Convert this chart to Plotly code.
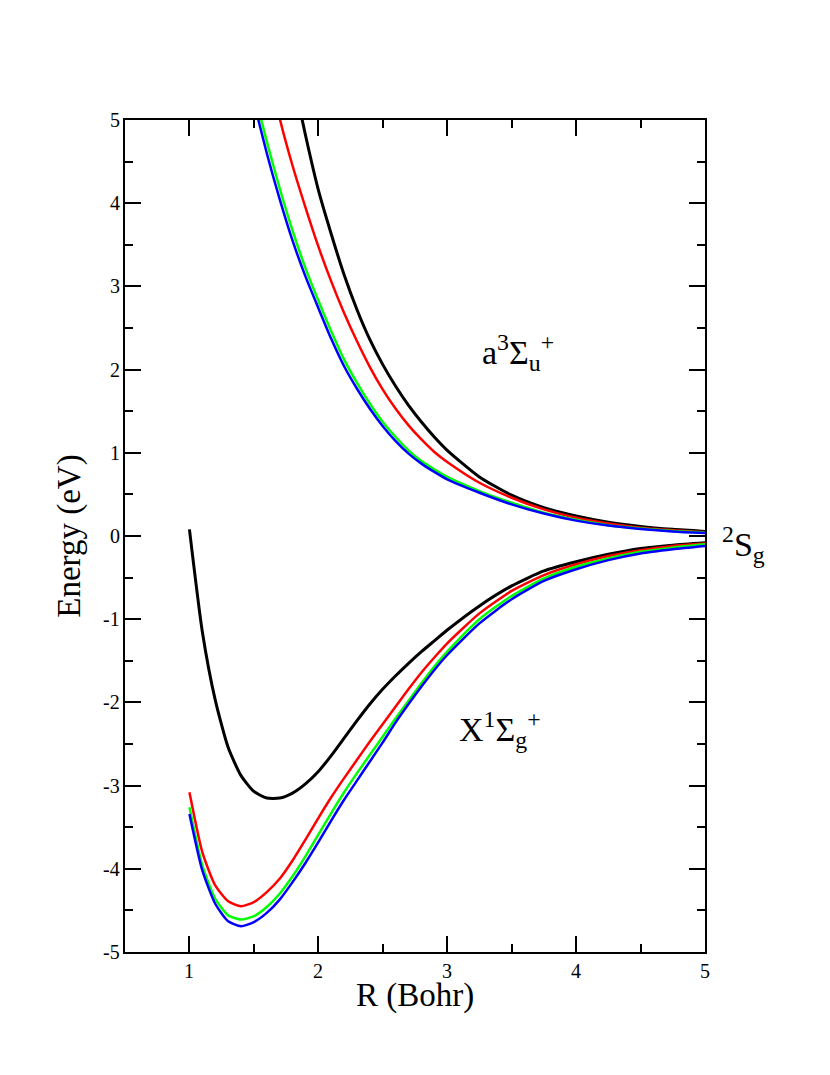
import plotly.graph_objects as go

# bond length grid (Bohr)
r_low = [1.0, 1.1, 1.2, 1.3, 1.4, 1.5, 1.6, 1.7, 1.8, 1.9, 2.0, 2.1, 2.2, 2.3, 2.4,
         2.5, 2.6, 2.7, 2.8, 2.9, 3.0, 3.25, 3.5, 3.75, 4.0, 4.25, 4.5, 4.75, 5.0]

# X 1Sigma_g+ curves (eV)
x_black = [0.08, -1.15, -1.97, -2.54, -2.88, -3.07, -3.15, -3.15, -3.09, -2.98, -2.83,
           -2.64, -2.43, -2.22, -2.02, -1.84, -1.68, -1.53, -1.39, -1.26, -1.13,
           -0.84, -0.60, -0.42, -0.31, -0.22, -0.15, -0.11, -0.08]
x_red = [-3.08, -3.80, -4.20, -4.39, -4.45, -4.40, -4.28, -4.12, -3.90, -3.65, -3.39,
         -3.14, -2.91, -2.69, -2.47, -2.26, -2.05, -1.84, -1.64, -1.46, -1.29,
         -0.93, -0.66, -0.47, -0.34, -0.24, -0.17, -0.12, -0.09]
x_green = [-3.26, -3.96, -4.36, -4.56, -4.61, -4.57, -4.46, -4.30, -4.09, -3.85, -3.59,
           -3.33, -3.08, -2.85, -2.63, -2.41, -2.19, -1.98, -1.77, -1.57, -1.39,
           -1.00, -0.72, -0.51, -0.37, -0.27, -0.19, -0.14, -0.10]
x_blue = [-3.34, -4.02, -4.42, -4.63, -4.69, -4.64, -4.53, -4.37, -4.16, -3.93, -3.68,
          -3.42, -3.17, -2.94, -2.71, -2.48, -2.24, -2.02, -1.81, -1.61, -1.43,
          -1.05, -0.76, -0.54, -0.40, -0.29, -0.21, -0.16, -0.12]

# a 3Sigma_u+ curves (eV)
r_up = [1.4, 1.5, 1.6, 1.7, 1.8, 1.9, 2.0, 2.1, 2.2, 2.3, 2.4, 2.5, 2.6, 2.7, 2.8,
        2.9, 3.0, 3.25, 3.5, 3.75, 4.0, 4.25, 4.5, 4.75, 5.0]
a_black = [9.3, 8.2, 7.2, 6.33, 5.55, 4.82, 4.16, 3.63, 3.14, 2.72, 2.36, 2.06, 1.80,
           1.57, 1.37, 1.19, 1.03, 0.71, 0.49, 0.34, 0.24, 0.165, 0.115, 0.08, 0.055]
a_red = [7.3, 6.45, 5.70, 5.02, 4.45, 3.95, 3.48, 3.06, 2.68, 2.34, 2.03, 1.76, 1.53,
         1.33, 1.16, 1.01, 0.89, 0.64, 0.46, 0.32, 0.22, 0.15, 0.10, 0.07, 0.045]
a_green = [6.05, 5.36, 4.74, 4.18, 3.67, 3.22, 2.83, 2.46, 2.12, 1.84, 1.59, 1.37, 1.19,
           1.03, 0.90, 0.80, 0.71, 0.54, 0.40, 0.28, 0.195, 0.13, 0.09, 0.06, 0.04]
a_blue = [5.90, 5.22, 4.60, 4.05, 3.55, 3.12, 2.74, 2.37, 2.04, 1.77, 1.53, 1.32, 1.14,
          0.99, 0.87, 0.77, 0.68, 0.52, 0.38, 0.27, 0.185, 0.125, 0.085, 0.055, 0.035]

y_ticks = [-5, -4, -3, -2, -1, 0, 1, 2, 3, 4, 5]
y_labels = ['-5', '-4', '-3', '-2', '-1', '0', '1', '2', '3', '4', '5']
x_ticks = [1, 2, 3, 4, 5]
x_labels = ['1', '2', '3', '4', '5']

font_family = "Liberation Serif"

fig = go.Figure()

for xs, ys, col, w in [(r_low, x_black, 'black', 3), (r_low, x_red, '#ff0000', 2.5),
                       (r_low, x_green, '#00ff00', 2.5), (r_low, x_blue, '#0000ff', 2.5),
                       (r_up, a_black, 'black', 3), (r_up, a_red, '#ff0000', 2.5),
                       (r_up, a_green, '#00ff00', 2.5), (r_up, a_blue, '#0000ff', 2.5)]:
    fig.add_trace(go.Scatter(x=xs, y=ys, mode='lines',
                             line=dict(color=col, width=w, shape='spline', smoothing=0.6),
                             showlegend=False, hoverinfo='skip'))

label_font = dict(family=font_family, size=34, color='black')
fig.add_annotation(x=3.55, y=2.2, xref='x', yref='y', showarrow=False,
                   text='a<sup>3</sup>Σ<sub>u</sub><sup>+</sup>', font=label_font)
fig.add_annotation(x=3.41, y=-2.33, xref='x', yref='y', showarrow=False,
                   text='X<sup>1</sup>Σ<sub>g</sub><sup>+</sup>', font=label_font)
fig.add_annotation(x=1.067, y=-0.1, xref='paper', yref='y', showarrow=False,
                   xanchor='center', yanchor='middle',
                   text='<sup>2</sup>S<sub>g</sub>', font=label_font)

# axis titles
title_font = dict(family=font_family, size=33, color='black')
fig.add_annotation(x=0.5, y=-0.052, xref='paper', yref='paper', showarrow=False,
                   text='R (Bohr)', font=title_font, xanchor='center', yanchor='middle')
fig.add_annotation(x=-0.097, y=0.5, xref='paper', yref='paper', showarrow=False,
                   text='Energy (eV)', font=title_font, textangle=-90,
                   xanchor='center', yanchor='middle')

# tick labels (serif, placed on the axes' own scales)
tick_font = dict(family=font_family, size=20, color='black')
for v, lab in zip(y_ticks, y_labels):
    fig.add_annotation(x=-0.006, xref='paper', y=v, yref='y', text=lab, showarrow=False,
                       xanchor='right', yanchor='middle', font=tick_font)
for v, lab in zip(x_ticks, x_labels):
    fig.add_annotation(x=v, xref='x', y=-0.023, yref='paper', text=lab, showarrow=False,
                       xanchor='center', yanchor='middle', font=tick_font)

minor_ticks = dict(ticks='inside', ticklen=8, tickwidth=2, tickcolor='black', dtick=0.5, tick0=0)

fig.update_layout(
    template='none',
    width=830, height=1075, margin=dict(l=117, r=133, t=112, b=131),
    font=dict(family=font_family, size=20, color='black'),
    paper_bgcolor='white', plot_bgcolor='white',
    xaxis=dict(range=[0.5, 5], tickmode='array', tickvals=x_ticks, showticklabels=False,
               showgrid=False, zeroline=False, showline=True, linecolor='black', linewidth=2,
               mirror='ticks', ticks='inside', ticklen=16, tickwidth=2, tickcolor='black',
               minor=minor_ticks),
    yaxis=dict(range=[-5, 5], tickmode='array', tickvals=y_ticks, showticklabels=False,
               showgrid=False, zeroline=False, showline=True, linecolor='black', linewidth=2,
               mirror='ticks', ticks='inside', ticklen=16, tickwidth=2, tickcolor='black',
               minor=minor_ticks),
)

fig.write_html("out.html")
